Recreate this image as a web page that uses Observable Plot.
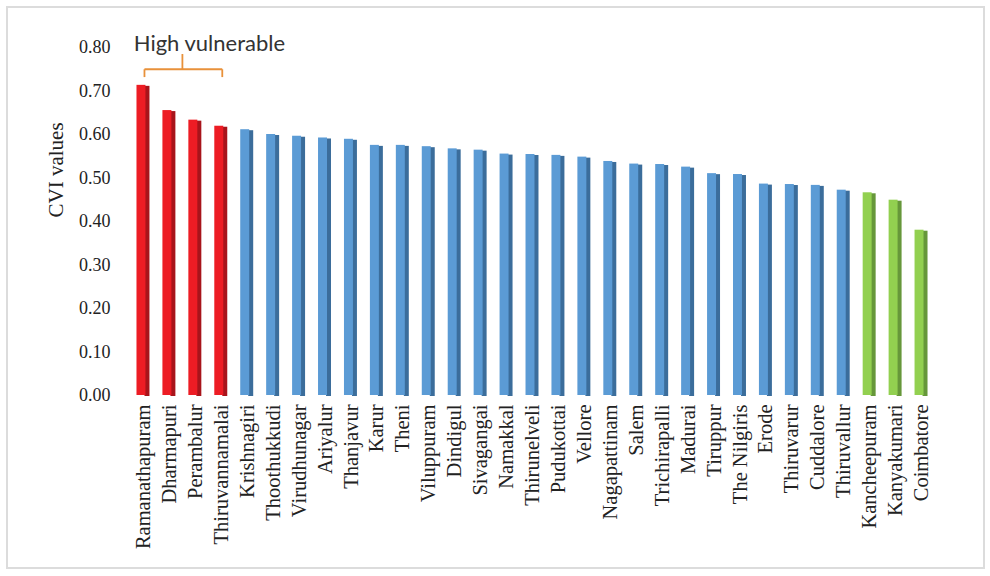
<!DOCTYPE html>
<html>
<head>
<meta charset="utf-8">
<script src="https://cdn.jsdelivr.net/npm/d3@7"></script>
<script src="https://cdn.jsdelivr.net/npm/@observablehq/plot@0.6"></script>
<style>
  html, body { margin: 0; padding: 0; background: #fff; }
  #wrap { position: relative; width: 990px; height: 576px; }
  #wrap svg { display: block; }
  #border { position: absolute; left: 6px; top: 6px; width: 979px; height: 563px; border: 2px solid #dcdcdc; box-sizing: border-box; pointer-events: none; }
</style>
</head>
<body>
<div id="wrap"><div id="border"></div></div>
<script>
const districts = ["Ramanathapuram","Dharmapuri","Perambalur","Thiruvannamalai","Krishnagiri","Thoothukkudi","Virudhunagar","Ariyalur","Thanjavur","Karur","Theni","Viluppuram","Dindigul","Sivagangai","Namakkal","Thirunelveli","Pudukottai","Vellore","Nagapattinam","Salem","Trichirapalli","Madurai","Tiruppur","The Nilgiris","Erode","Thiruvarur","Cuddalore","Thiruvallur","Kancheepuram","Kanyakumari","Coimbatore"];
const cvi = [0.713,0.655,0.633,0.619,0.611,0.600,0.596,0.592,0.589,0.575,0.575,0.572,0.567,0.564,0.555,0.554,0.552,0.548,0.538,0.532,0.531,0.525,0.510,0.508,0.486,0.485,0.483,0.472,0.466,0.449,0.380];
const groups = ["High","High","High","High","Moderate","Moderate","Moderate","Moderate","Moderate","Moderate","Moderate","Moderate","Moderate","Moderate","Moderate","Moderate","Moderate","Moderate","Moderate","Moderate","Moderate","Moderate","Moderate","Moderate","Moderate","Moderate","Moderate","Moderate","Low","Low","Low"];
const yTicks = [0,0.1,0.2,0.3,0.4,0.5,0.6,0.7,0.8];
const faceColor = {High: "#ed1c24", Moderate: "#5b9bd5", Low: "#92d050"};
const sideColor = {High: "#a8141b", Moderate: "#3b6d9b", Low: "#66973a"};
const yLabel = "CVI values";
const annotationText = "High vulnerable";
const bracketFrom = "Ramanathapuram", bracketTo = "Thiruvannamalai", bracketMid = "Dharmapuri";

const data = districts.map((d, i) => ({district: d, value: cvi[i], group: groups[i]}));

const serif = "Liberation Serif, Times New Roman, serif";
const orange = "#e8913a";

const chart = Plot.plot({
  width: 990,
  height: 576,
  marginLeft: 130,
  marginRight: 56,
  marginTop: 47,
  marginBottom: 181,
  style: {fontFamily: serif, fontSize: "18px", color: "#222", background: "transparent"},
  x: {domain: districts, paddingInner: 0.5, paddingOuter: 0.25, round: false, label: null},
  y: {domain: [0, 0.8], label: null},
  marks: [
    // side (3D) face
    Plot.barY(data, {x: "district", y: "value", fill: d => sideColor[d.group], insetLeft: 8, dy: 1}),
    // front face
    Plot.barY(data, {x: "district", y: "value", fill: d => faceColor[d.group], insetRight: 4}),
    Plot.axisY({ticks: yTicks, tickFormat: d3.format(".2f"), tickSize: 0, tickPadding: 20, label: null, fontSize: 18, fontFamily: serif}),
    Plot.axisX({tickSize: 0, tickPadding: 9, tickRotate: -90, label: null, fontSize: 20.5, fontFamily: serif}),
    Plot.text([yLabel], {frameAnchor: "left", dx: -74, dy: -4, rotate: -90, fontSize: 21, fontFamily: serif, fill: "#222"}),
    // bracket annotation
    Plot.link([{a: bracketFrom, b: bracketTo}], {x1: "a", x2: "b", y1: 0.75, y2: 0.75, stroke: orange, strokeWidth: 1.8, dx: 1}),
    Plot.link([bracketFrom, bracketTo], {x1: d => d, x2: d => d, y1: 0.75, y2: 0.732, stroke: orange, strokeWidth: 1.8, dx: 1}),
    Plot.link([bracketMid], {x1: d => d, x2: d => d, y1: 0.75, y2: 0.785, stroke: orange, strokeWidth: 1.8, dx: 13}),
    Plot.text([annotationText], {x: () => bracketMid, y: 0.808, dx: 40, text: d => d, fontFamily: "Lato, Liberation Sans, sans-serif", fontSize: 22, fill: "#333"})
  ]
});
// ensure serif font for the y-axis title
d3.select(chart).selectAll("text").filter(function() { return this.textContent === yLabel; })
  .style("font-family", serif);
document.getElementById("wrap").prepend(chart);
</script>
</body>
</html>
